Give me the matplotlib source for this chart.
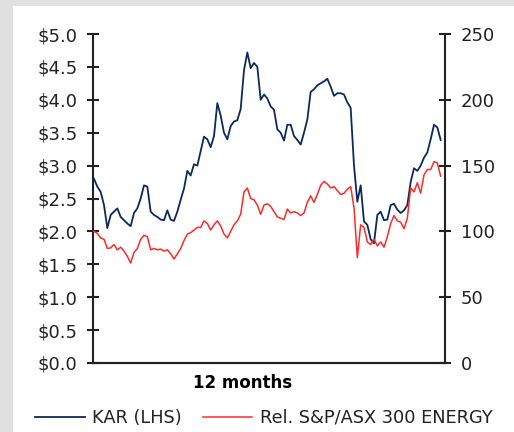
import numpy as np
import matplotlib.pyplot as plt
from matplotlib.patches import Rectangle

# KAR share price ($, left axis)
kar = [2.80, 2.68, 2.60, 2.40, 2.05, 2.25, 2.30, 2.35, 2.22, 2.17,
       2.12, 2.08, 2.28, 2.35, 2.50, 2.70, 2.68, 2.30, 2.25, 2.22,
       2.18, 2.17, 2.32, 2.18, 2.16, 2.30, 2.48, 2.65, 2.92, 2.85,
       3.02, 3.00, 3.22, 3.44, 3.40, 3.28, 3.45, 3.95, 3.76, 3.50,
       3.40, 3.60, 3.67, 3.69, 3.86, 4.45, 4.72, 4.48, 4.56, 4.50,
       4.00, 4.08, 4.02, 3.90, 3.85, 3.55, 3.50, 3.38, 3.62, 3.62,
       3.45, 3.39, 3.32, 3.50, 3.70, 4.12, 4.16, 4.22, 4.25, 4.28,
       4.32, 4.20, 4.06, 4.10, 4.10, 4.08, 3.96, 3.88, 3.00, 2.45,
       2.70, 2.15, 2.10, 1.88, 1.82, 2.25, 2.30, 2.17, 2.18, 2.40,
       2.42, 2.33, 2.28, 2.32, 2.40, 2.75, 2.96, 2.92, 3.00, 3.12,
       3.20, 3.40, 3.62, 3.58, 3.39]

# relative performance vs S&P/ASX 300 Energy (right axis, rebased to 100)
rel = [100, 98.5, 95, 94, 87, 87.5, 90, 86, 88, 85,
       81, 76, 84, 87, 94, 97, 96, 86, 87, 86,
       86.5, 85, 86, 83, 79, 83, 87, 93, 98, 99,
       101, 103, 103, 108, 106, 101, 105, 108, 104, 98,
       95, 100, 105, 108, 113, 130, 133, 125, 124, 120,
       113, 120, 121, 119, 115, 111, 110, 109, 117, 114,
       115, 114, 112, 114, 122, 127, 122, 128, 135, 138,
       136, 133, 134, 131, 128, 129, 132, 134, 118, 80,
       105, 103, 92, 90, 94, 89, 92, 88, 96, 106,
       112, 108, 107, 102, 110, 133, 130, 137, 129, 143,
       147, 147, 153, 152, 142]

left_ticks = np.arange(0, 5.01, 0.5)
left_labels = ['$%.1f' % v for v in left_ticks]
right_ticks = [0, 50, 100, 150, 200, 250]

navy = '#0b2a5c'
red = '#ff2a2a'
ink = '#222222'

plt.rcParams['font.family'] = ['DejaVu Sans']

fig = plt.figure(figsize=(5.14, 4.32), dpi=100, facecolor='#e1e1e1')
fig.patches.append(Rectangle((13 / 514, 0), 501 / 514, 426 / 432,
                             transform=fig.transFigure, facecolor='white',
                             edgecolor='none', zorder=-10))

ax = fig.add_axes([93 / 514, 1 - 363 / 432, 352 / 514, 329 / 432])
ax.set_facecolor('none')
ax2 = ax.twinx()

x = np.arange(len(kar))
ax.plot(x, kar, color=navy, lw=1.3, zorder=3)
ax2.plot(x, rel, color=red, lw=1.1, zorder=2)

ax.set_xlim(-0.3, 105.3)
ax.set_ylim(0, 5)
ax2.set_ylim(0, 250)
ax.set_xticks([])

ax.set_yticks(left_ticks)
ax.set_yticklabels(left_labels)
ax2.set_yticks(right_ticks)

for a in (ax, ax2):
    for s in a.spines.values():
        s.set_color(ink)
        s.set_linewidth(1.5)
    a.spines['top'].set_visible(False)
    a.tick_params(axis='y', direction='inout', length=8.5, width=1.5,
                  color=ink, labelcolor=ink, labelsize=13)
ax.tick_params(axis='y', pad=7)
ax2.tick_params(axis='y', pad=7)
ax.spines['right'].set_visible(False)
ax2.spines['left'].set_visible(False)

fig.text(243 / 514, 1 - 383 / 432, '12 months', ha='center', va='center',
         fontsize=12, fontweight='bold', color='black')

h1, = ax.plot([], [], color=navy, lw=1.3, label='KAR (LHS)')
h2, = ax.plot([], [], color=red, lw=1.1, label='Rel. S&P/ASX 300 ENERGY')
fig.legend(handles=[h1, h2], loc='center left',
           bbox_to_anchor=(35 / 514, 1 - 418 / 432), ncol=2, frameon=False,
           fontsize=12.8, handlelength=2.8, handletextpad=0.4,
           columnspacing=1.18, borderpad=0, borderaxespad=0,
           labelcolor=ink)

fig.savefig('out.png', dpi=100, facecolor=fig.get_facecolor())
